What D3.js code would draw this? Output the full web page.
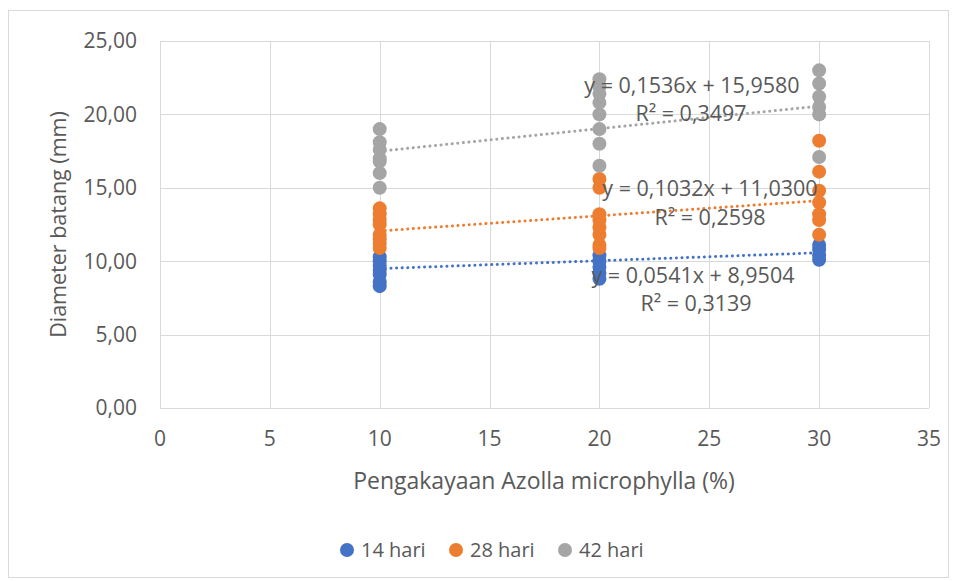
<!DOCTYPE html>
<html>
<head>
<meta charset="utf-8">
<script src="https://cdn.jsdelivr.net/npm/d3@7"></script>
<style>
  body { margin: 0; background: #fff; }
  svg text { font-family: "Open Sans", sans-serif; fill: #595959; }
</style>
</head>
<body>
<svg width="957" height="581"></svg>
<script>
const width = 957, height = 581;
const svg = d3.select("svg");

// series names and colours
const seriesNames = ["14 hari", "28 hari", "42 hari"];
const seriesColors = ["#4472C4", "#ED7D31", "#A5A5A5"];

// observations per series (x = % Azolla, y = diameter mm)
const x14 = [10, 10, 10, 10, 10, 10, 10, 20, 20, 20, 20, 20, 30, 30, 30, 30];
const y14 = [10.3, 10.0, 9.7, 9.4, 9.1, 8.6, 8.3, 10.4, 10.0, 9.6, 9.2, 8.8, 11.1, 10.8, 10.4, 10.1];
const x28 = [10, 10, 10, 10, 10, 10, 10, 10, 20, 20, 20, 20, 20, 20, 20, 20, 30, 30, 30, 30, 30, 30, 30];
const y28 = [13.6, 13.2, 12.8, 12.5, 11.8, 11.5, 11.2, 10.9, 15.6, 15.0, 13.2, 12.8, 12.3, 11.8, 11.1, 10.9, 18.2, 16.1, 14.8, 14.0, 13.2, 12.8, 11.8];
const x42 = [10, 10, 10, 10, 10, 10, 10, 20, 20, 20, 20, 20, 20, 20, 20, 30, 30, 30, 30, 30, 30];
const y42 = [19.0, 18.1, 17.6, 17.0, 16.8, 16.0, 15.0, 22.4, 21.9, 21.4, 20.8, 20.0, 19.0, 18.0, 16.5, 23.0, 22.1, 21.2, 20.5, 20.0, 17.1];

// linear trend lines
const slopes = [0.0541, 0.1032, 0.1536];
const intercepts = [8.9504, 11.0300, 15.9580];
const eqLabels = ["y = 0,0541x + 8,9504", "y = 0,1032x + 11,0300", "y = 0,1536x + 15,9580"];
const r2Labels = ["R² = 0,3139", "R² = 0,2598", "R² = 0,3497"];

const xTicks = [0, 5, 10, 15, 20, 25, 30, 35];
const yTicks = [0, 5, 10, 15, 20, 25];

const series = [
  { xs: x14, ys: y14 },
  { xs: x28, ys: y28 },
  { xs: x42, ys: y42 }
];

const margin = { left: 160, right: 28, top: 41, bottom: 173 };
const x = d3.scaleLinear().domain([0, 35]).range([margin.left, width - margin.right]);
const y = d3.scaleLinear().domain([0, 25]).range([height - margin.bottom, margin.top]);

// outer chart border
svg.append("rect")
  .attr("x", 8.5).attr("y", 10.5)
  .attr("width", 940).attr("height", 567)
  .attr("fill", "none").attr("stroke", "#d9d9d9");

// gridlines
svg.append("g").selectAll("line.h").data(yTicks).join("line")
  .attr("x1", x(0)).attr("x2", x(35))
  .attr("y1", d => Math.round(y(d)) + 0.5).attr("y2", d => Math.round(y(d)) + 0.5)
  .attr("stroke", "#d9d9d9");
svg.append("g").selectAll("line.v").data(xTicks).join("line")
  .attr("y1", y(0)).attr("y2", y(25))
  .attr("x1", d => Math.round(x(d)) + 0.5).attr("x2", d => Math.round(x(d)) + 0.5)
  .attr("stroke", "#d9d9d9");

// tick labels
svg.append("g").selectAll("text").data(yTicks).join("text")
  .attr("x", 137).attr("y", d => y(d))
  .attr("dy", "0.35em").attr("text-anchor", "end")
  .style("font-size", "21px")
  .text(d => d3.format(".2f")(d).replace(".", ","));
svg.append("g").selectAll("text").data(xTicks).join("text")
  .attr("x", d => x(d)).attr("y", y(0) + 31)
  .attr("dy", "0.35em")
  .attr("text-anchor", "middle")
  .style("font-size", "21px")
  .text(d => d);

// axis titles
svg.append("text")
  .attr("transform", `translate(58,${(y(0) + y(25)) / 2}) rotate(-90)`)
  .attr("text-anchor", "middle").attr("dy", "0.35em")
  .style("font-size", "21.5px")
  .text("Diameter batang (mm)");
svg.append("text")
  .attr("x", 544).attr("y", 481)
  .attr("dy", "0.35em")
  .attr("text-anchor", "middle")
  .style("font-size", "23px")
  .text("Pengakayaan Azolla microphylla (%)");

// trend lines
svg.append("g").selectAll("line").data(series).join("line")
  .attr("x1", x(10)).attr("x2", x(30))
  .attr("y1", (d, i) => y(slopes[i] * 10 + intercepts[i]))
  .attr("y2", (d, i) => y(slopes[i] * 30 + intercepts[i]))
  .attr("stroke", (d, i) => seriesColors[i])
  .attr("stroke-width", 3)
  .attr("stroke-dasharray", "0.1 5.5")
  .attr("stroke-linecap", "round");

// points
series.forEach((s, i) => {
  svg.append("g").selectAll("circle").data(s.xs).join("circle")
    .attr("cx", d => x(d))
    .attr("cy", (d, j) => y(s.ys[j]))
    .attr("r", 7)
    .attr("fill", seriesColors[i]);
});

// equation labels
const eqPos = [[693, 275, 696, 303], [710, 188, 710, 217], [692, 85, 691, 113]];
eqLabels.forEach((t, i) => {
  svg.append("text").attr("x", eqPos[i][0]).attr("y", eqPos[i][1])
    .attr("dy", "0.35em").attr("text-anchor", "middle")
    .style("font-size", "21.5px").text(t);
  svg.append("text").attr("x", eqPos[i][2]).attr("y", eqPos[i][3])
    .attr("dy", "0.35em").attr("text-anchor", "middle")
    .style("font-size", "21.5px").text(r2Labels[i]);
});

// legend
const legendX = [347, 456, 565];
const legend = svg.append("g").selectAll("g").data(seriesNames).join("g")
  .attr("transform", (d, i) => `translate(${legendX[i]},550)`);
legend.append("circle").attr("r", 7).attr("fill", (d, i) => seriesColors[i]);
legend.append("text").attr("x", 14).attr("dy", "0.35em")
  .style("font-size", "20px").text(d => d);
</script>
</body>
</html>
